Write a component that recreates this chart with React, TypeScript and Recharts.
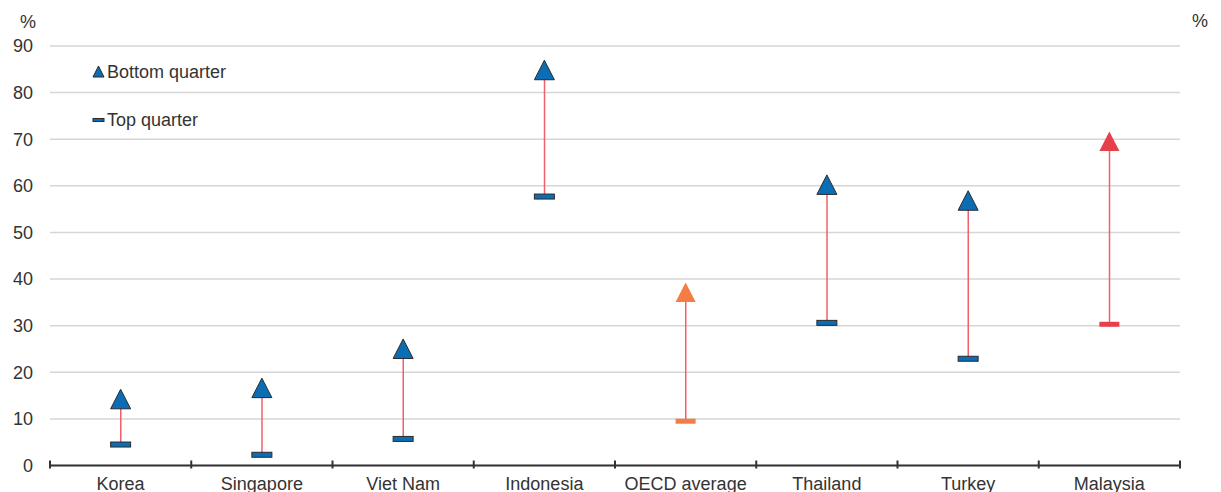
import React from 'react';
import {
  ComposedChart,
  Bar,
  Scatter,
  XAxis,
  YAxis,
  CartesianGrid,
} from 'recharts';

const categories = ['Korea', 'Singapore', 'Viet Nam', 'Indonesia', 'OECD average', 'Thailand', 'Turkey', 'Malaysia'];
const bottomQuarter = [14.2, 16.6, 25.0, 84.8, 37.1, 60.2, 56.8, 69.5];
const topQuarter = [4.5, 2.3, 5.7, 57.7, 9.5, 30.6, 22.9, 30.3];
const yTicks = [0, 10, 20, 30, 40, 50, 60, 70, 80, 90];

const CHART_W = 1221;
const CHART_H = 492;
const LEFT_W = 50;
const RIGHT_W = 41;
const BAND = (CHART_W - LEFT_W - RIGHT_W) / categories.length;

const FONT = "'Liberation Sans Narrow', 'Arial Narrow', 'Liberation Sans', Arial, sans-serif";
const TEXT = '#333333';
const BLUE = '#0B6EB4';
const OUTLINE = '#2b2b2b';
const LINK = '#F0606A';

// highlighted economies get their own colour, no outline
const HIGHLIGHT: Record<string, string> = {
  'OECD average': '#F47C45',
  Malaysia: '#E8404B',
};

const data = categories.map((name, i) => ({
  name,
  bottom: bottomQuarter[i],
  top: topQuarter[i],
  range: [topQuarter[i], bottomQuarter[i]],
}));

function Triangle(props: any) {
  const { cx, cy, payload } = props;
  if (cx == null || cy == null) return null;
  const hl = HIGHLIGHT[payload.name];
  return (
    <polygon
      points={`${cx},${cy - 10} ${cx - 10},${cy + 9.5} ${cx + 10},${cy + 9.5}`}
      fill={hl || BLUE}
      stroke={hl ? 'none' : OUTLINE}
      strokeWidth={1}
    />
  );
}

function Dash(props: any) {
  const { cx, cy, payload } = props;
  if (cx == null || cy == null) return null;
  const hl = HIGHLIGHT[payload.name];
  return (
    <rect
      x={cx - 10}
      y={cy - 2.5}
      width={20}
      height={5}
      fill={hl || BLUE}
      stroke={hl ? 'none' : OUTLINE}
      strokeWidth={1}
    />
  );
}

function CategoryTick(props: any) {
  const { x, y, payload, index } = props;
  const last = index === categories.length - 1;
  return (
    <g>
      <line x1={x - BAND / 2} x2={x - BAND / 2} y1={y - 5} y2={y + 3} stroke={TEXT} strokeWidth={2} />
      {last && <line x1={x + BAND / 2} x2={x + BAND / 2} y1={y - 5} y2={y + 3} stroke={TEXT} strokeWidth={2} />}
      <text x={x} y={y + 24} textAnchor="middle" fill={TEXT} fontSize={18} fontFamily={FONT}>
        {payload.value}
      </text>
    </g>
  );
}

function LegendBox() {
  return (
    <div style={{ position: 'absolute', left: 92, top: 62, fontFamily: FONT, fontSize: 18, color: TEXT, lineHeight: '20px' }}>
      <div style={{ display: 'flex', alignItems: 'center', height: 20 }}>
        <svg width={15} height={14}>
          <polygon points="6.5,1 1,12 12,12" fill={BLUE} stroke={OUTLINE} strokeWidth={1} />
        </svg>
        <span>Bottom quarter</span>
      </div>
      <div style={{ display: 'flex', alignItems: 'center', height: 20, marginTop: 28 }}>
        <svg width={15} height={14}>
          <rect x={1} y={5.5} width={11} height={3} fill={BLUE} stroke={OUTLINE} strokeWidth={1} />
        </svg>
        <span>Top quarter</span>
      </div>
    </div>
  );
}

export default function App() {
  return (
    <div style={{ position: 'absolute', left: 0, top: 0, width: CHART_W, height: CHART_H, background: '#fff' }}>
      <ComposedChart
        width={CHART_W}
        height={CHART_H}
        data={data}
        margin={{ top: 46, right: 0, bottom: 0, left: 0 }}
      >
        <CartesianGrid yAxisId="left" vertical={false} stroke="#d6d6d6" strokeWidth={1.5} />
        <XAxis
          dataKey="name"
          height={26.5}
          axisLine={{ stroke: TEXT, strokeWidth: 2 }}
          tickLine={false}
          tickSize={0}
          tickMargin={0}
          interval={0}
          tick={<CategoryTick />}
        />
        <YAxis
          yAxisId="left"
          width={LEFT_W}
          domain={[0, 90]}
          ticks={yTicks}
          axisLine={false}
          tickLine={false}
          tickSize={0}
          tickMargin={17}
          tick={{ fill: TEXT, fontSize: 18, fontFamily: FONT }}
        />
        <YAxis
          yAxisId="right"
          orientation="right"
          width={RIGHT_W}
          domain={[0, 90]}
          ticks={yTicks}
          axisLine={false}
          tickLine={false}
          tickSize={0}
          tickMargin={18}
          tick={{ fill: TEXT, fontSize: 18, fontFamily: FONT, textAnchor: 'start' }}
        />
        <Bar yAxisId="left" dataKey="range" barSize={1.5} fill={LINK} isAnimationActive={false} legendType="none" />
        <Scatter yAxisId="left" name="Top quarter" dataKey="top" shape={<Dash />} isAnimationActive={false} />
        <Scatter yAxisId="left" name="Bottom quarter" dataKey="bottom" shape={<Triangle />} isAnimationActive={false} />
      </ComposedChart>
      <LegendBox />
      <div style={{ position: 'absolute', left: 20, top: 12, fontFamily: FONT, fontSize: 18, color: TEXT }}>%</div>
      <div style={{ position: 'absolute', left: 1192, top: 11, fontFamily: FONT, fontSize: 18, color: TEXT }}>%</div>
    </div>
  );
}
